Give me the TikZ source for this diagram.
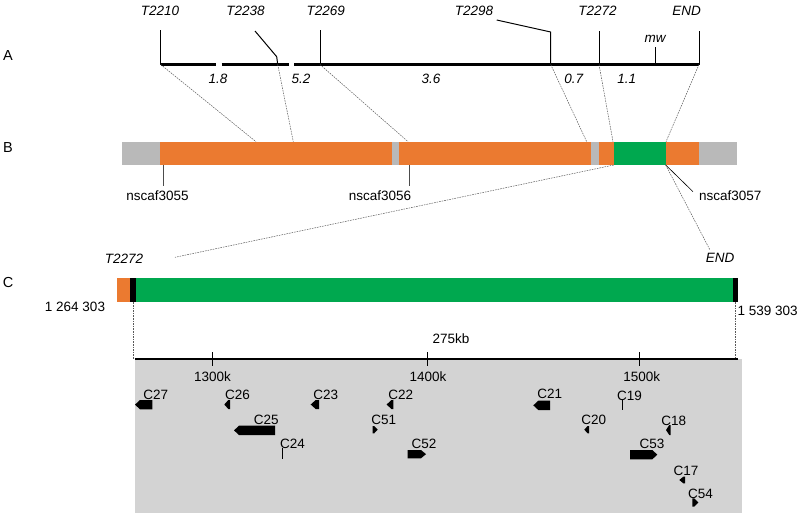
\documentclass[tikz,border=0pt]{standalone}
\usepackage{fontspec}
\setmainfont{Liberation Sans}
\usepackage{xcolor}
\usepackage{tikz}
\usetikzlibrary{positioning, calc}

\definecolor{scafOrange}{HTML}{EB7A30}
\definecolor{scafGreen}{HTML}{00A84F}
\definecolor{scafGrey}{HTML}{B9B9B9}
\definecolor{boxGrey}{HTML}{D3D3D3}

% gene arrows: x1, x2, ytop, ybottom
\newcommand{\geneleft}[4]{\fill[gene] (#1,{(#3+#4)/2}) -- ({#1+min(5,0.7*(#2-#1))},#3) -- (#2,#3) -- (#2,#4) -- ({#1+min(5,0.7*(#2-#1))},#4) -- cycle;}
\newcommand{\generight}[4]{\fill[gene] (#2,{(#3+#4)/2}) -- ({#2-min(5,0.7*(#2-#1))},#3) -- (#1,#3) -- (#1,#4) -- ({#2-min(5,0.7*(#2-#1))},#4) -- cycle;}

\tikzset{
  lab/.style={font=\fontsize{13.5}{16}\selectfont, inner sep=0pt, anchor=base},
  ilab/.style={lab, font=\fontsize{13.5}{16}\selectfont\itshape},
  sect/.style={lab, font=\fontsize{14.5}{17}\selectfont},
  zoomline/.style={densely dashed, gray!70!black, line width=0.5pt, dash pattern=on 1.6pt off 1pt},
  mapline/.style={line width=3pt},
  tick/.style={line width=1pt},
  gene/.style={fill=black},
}

\begin{document}
\begin{tikzpicture}[x=1pt, y=-1pt]
    \useasboundingbox (0,0) rectangle (800,515);

    % Section letters
    \node[sect] (secA) at (8,60) {A};
    \node[sect] (secB) at (8,152) {B};
    \node[sect] (secC) at (8,287) {C};

    % ---------- A: marker map ----------
    \draw[mapline] (160.7,64.5) -- (216,64.5);
    \draw[mapline] (221.7,64.5) -- (289,64.5);
    \draw[mapline] (294,64.5) -- (699,64.5);

    \coordinate (t2210) at (160.7,64.5);
    \coordinate (t2238) at (277.7,64.5);
    \coordinate (t2269) at (320,64.5);
    \coordinate (t2298) at (550.7,64.5);
    \coordinate (t2272) at (599,64.5);
    \coordinate (mw) at (655.7,64.5);
    \coordinate (endA) at (699,64.5);

    % marker ticks
    \draw[tick] (t2210) -- ++(0,-34.5);
    \draw[tick] (t2238) -- (276.7,56.7) -- (255,31);
    \draw[tick] (t2269) -- ++(0,-34.5);
    \draw[tick] (t2298) -- (550.7,32) -- (496.7,20);
    \draw[tick] (t2272) -- ++(0,-33.5);
    \draw[tick] (mw) -- ++(0,-17.5);
    \draw[tick] (endA) -- ++(0,-33.5);

    % marker names
    \node[ilab] (labT2210) at (160,15) {T2210};
    \node[ilab] (labT2238) at (245.5,15) {T2238};
    \node[ilab] (labT2269) at (325.8,15) {T2269};
    \node[ilab] (labT2298) at (474,15) {T2298};
    \node[ilab] (labT2272) at (597.5,15) {T2272};
    \node[ilab] (labEND) at (686.7,15) {END};
    \node[ilab] (labmw) at (655,42) {mw};

    % distances
    \node[ilab] (d1) at (218,83) {1.8};
    \node[ilab] (d2) at (301,83) {5.2};
    \node[ilab] (d3) at (431,83) {3.6};
    \node[ilab] (d4) at (573.7,83) {0.7};
    \node[ilab] (d5) at (626.7,83) {1.1};

    % ---------- B: scaffolds ----------
    \fill[scafGrey] (122.3,141.7) rectangle (160,165);
    \fill[scafOrange] (160,141.7) rectangle (391.7,165);
    \fill[scafGrey] (391.7,141.7) rectangle (399.3,165);
    \fill[scafOrange] (399.3,141.7) rectangle (591,165);
    \fill[scafGrey] (591,141.7) rectangle (599,165);
    \fill[scafOrange] (599,141.7) rectangle (613.7,165);
    \fill[scafGreen] (613.7,141.7) rectangle (665.7,165);
    \fill[scafOrange] (665.7,141.7) rectangle (699.3,165);
    \fill[scafGrey] (699.3,141.7) rectangle (737.3,165);

    \coordinate (b2210) at (256,141.7);
    \coordinate (b2238) at (293.3,141.7);
    \coordinate (b2269) at (408,141.7);
    \coordinate (b2298) at (586.7,141.7);
    \coordinate (b2272) at (613,141.7);
    \coordinate (bEnd) at (666,141.7);
    \coordinate (greenL) at (613.7,165);
    \coordinate (greenR) at (665.7,165);

    % dotted links A to B
    \draw[zoomline] (t2210) -- (b2210);
    \draw[zoomline] (t2238) -- (b2238);
    \draw[zoomline] (t2269) -- (b2269);
    \draw[zoomline] (t2298) -- (b2298);
    \draw[zoomline] (t2272) -- (b2272);
    \draw[zoomline] (endA) -- (bEnd);

    % scaffold names
    \draw[gray!60!black, line width=0.8pt] (163.3,165) -- (163.3,185.7);
    \draw[gray!60!black, line width=0.8pt] (409,165) -- (409,185.7);
    \draw[black, line width=0.6pt] (greenR) -- (693,191.7);
    \node[lab] (n3055) at (157.5,200) {nscaf3055};
    \node[lab] (n3056) at (380,200) {nscaf3056};
    \node[lab, anchor=base west] (n3057) at (699,200) {nscaf3057};

    % ---------- C: zoom on green scaffold ----------
    \node[ilab] (cT2272) at (124,263.3) {T2272};
    \node[ilab] (cEND) at (720,262.7) {END};
    \coordinate (cT2272end) at (175,257.3);
    \coordinate (cENDend) at (710,250);
    \draw[zoomline] (greenL) -- (cT2272end);
    \draw[zoomline] (greenR) -- (cENDend);

    \fill[scafOrange] (116.7,278.3) rectangle (130,302.3);
    \fill[black] (130,278.3) rectangle (135.7,302.3);
    \fill[scafGreen] (135.7,278.3) rectangle (732.7,302.3);
    \fill[black] (732.7,278.3) rectangle (738.3,302.3);

    \node[lab] (posL) at (75,311.7) {1 264 303};
    \node[lab, anchor=base west] (posR) at (737.3,315) {1 539 303};

    % gene panel background
    \fill[boxGrey] (135,359) rectangle (741.7,513);
    \coordinate (axL) at (134.5,359);
    \coordinate (axR) at (738,359);
    \draw[zoomline] (133.5,302.3) -- (133.5,359);
    \draw[zoomline] (735,302.3) -- (735,359);
    \node[lab] (kb) at (451,343) {275kb};

    % axis with ticks
    \draw[line width=2pt] (axL) -- (axR);
    \draw[tick] (212.3,352) -- (212.3,366);
    \draw[tick] (427.3,352) -- (427.3,366);
    \draw[tick] (639.3,352) -- (639.3,366);
    \node[lab] (k1300) at (212.5,381) {1300k};
    \node[lab] (k1400) at (428,381) {1400k};
    \node[lab] (k1500) at (641.7,381) {1500k};

    % genes
    \geneleft{135}{152.3}{400}{409.3}
    \geneleft{224.3}{230}{400}{409}
    \geneleft{310.7}{319}{400}{409}
    \geneleft{386.7}{393.3}{400}{409}
    \geneleft{234}{275}{425.7}{435}
    \generight{372.7}{377.7}{426}{433.3}
    \draw[line width=1.2pt] (282.7,448) -- (282.7,459);
    \generight{407.7}{426}{450}{458.3}
    \geneleft{533.3}{550}{400.7}{410}
    \draw[line width=1.2pt] (622.7,400) -- (622.7,410);
    \geneleft{584.3}{589}{426}{433.3}
    \geneleft{666}{670.7}{425}{435}
    \generight{630}{657.3}{450}{459.3}
    \geneleft{679.3}{685}{476.7}{483.3}
    \generight{692.3}{698.3}{498.3}{506.7}

    % gene names
    \node[lab] (c27) at (155.8,399) {C27};
    \node[lab] (c26) at (237.5,399) {C26};
    \node[lab] (c23) at (325.8,399) {C23};
    \node[lab] (c22) at (400.8,399) {C22};
    \node[lab] (c25) at (266.3,424) {C25};
    \node[lab] (c51) at (383.8,424) {C51};
    \node[lab] (c24) at (292.5,448) {C24};
    \node[lab] (c52) at (424,448) {C52};
    \node[lab] (c21) at (549.8,398) {C21};
    \node[lab] (c19) at (629.5,400) {C19};
    \node[lab] (c20) at (593.8,424) {C20};
    \node[lab] (c18) at (673.8,425) {C18};
    \node[lab] (c53) at (652,448) {C53};
    \node[lab] (c17) at (686,475) {C17};
    \node[lab] (c54) at (700.5,498.3) {C54};

\end{tikzpicture}
\end{document}
